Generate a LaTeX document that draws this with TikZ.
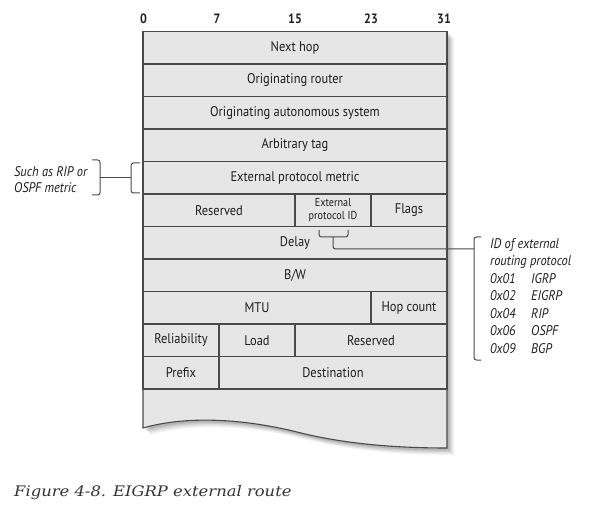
\documentclass[tikz,border=0pt]{standalone}
\usepackage{fontspec}
\setmainfont{DejaVu Serif}[FakeStretch=1.13]
\setsansfont{PT Sans}[FakeStretch=0.89]
\usetikzlibrary{positioning}
\definecolor{cellfill}{HTML}{E6E6E6}
\definecolor{linec}{HTML}{4A4A4A}
\definecolor{txtc}{HTML}{1E1E1E}
\definecolor{capc}{HTML}{333333}
\tikzset{
  cell/.style={draw=linec, line width=1.1pt, inner sep=0pt, minimum height=32.5pt, text=txtc, font=\sffamily\fontsize{14}{14}\selectfont, anchor=center},
  bitlbl/.style={text=txtc, font=\sffamily\bfseries\fontsize{13.5}{13.5}\selectfont, inner sep=0pt},
  note/.style={text=txtc, font=\sffamily\itshape\fontsize{14}{17.5}\selectfont, inner sep=0pt, align=left},
  brk/.style={draw=linec, line width=1pt, rounded corners=2.5pt},
}
\newcommand{\pcode}[2]{\makebox[41pt][l]{#1}#2}
\begin{document}
\begin{tikzpicture}[x=1pt,y=-1pt]
\useasboundingbox (0,0) rectangle (591,510);
% shadow
\foreach \o/\op in {7/0.05,5.5/0.07,4/0.09,2.5/0.11}{
  \fill[black,opacity=\op] (143+\o,31.5+\o) -- (447+\o,31.5+\o) -- (447+\o,448+\o)
    .. controls (390+\o,448+\o) and (340+\o,443+\o) .. (297+\o,432+\o)
    .. controls (240+\o,418+\o) and (185+\o,416+\o) .. (143+\o,428+\o) -- cycle;
}
% body
\fill[cellfill] (143,31.5) -- (447,31.5) -- (447,448)
    .. controls (390,448) and (340,443) .. (297,432)
    .. controls (240,418) and (185,416) .. (143,428) -- cycle;
\draw[draw=linec, line width=1.1pt] (143,389) -- (143,428)
    .. controls (185,416) and (240,418) .. (297,432)
    .. controls (340,443) and (390,448) .. (447,448) -- (447,389);
% bit labels
\node[bitlbl] (b0) at (143.5,19) {0};
\node[bitlbl] (b7) at (217,19) {7};
\node[bitlbl] (b15) at (295,19) {15};
\node[bitlbl] (b23) at (371,19) {23};
\node[bitlbl] (b31) at (444,19) {31};
% rows
\node[cell, minimum width=304pt] (nh) at (295,47.75) {Next hop};
\node[cell, minimum width=304pt] (or) at (295,80.25) {Originating router};
\node[cell, minimum width=304pt] (oas) at (295,112.75) {Originating autonomous system};
\node[cell, minimum width=304pt] (at) at (295,145.25) {Arbitrary tag};
\node[cell, minimum width=304pt] (epm) at (295,177.75) {External protocol metric};
\node[cell, minimum width=152pt] (res1) at (219,210.25) {Reserved};
\node[cell, minimum width=76pt, align=center, font=\sffamily\fontsize{11.5}{12.5}\selectfont] (epid) at (333,210.25) {External\\protocol ID};
\node[cell, minimum width=76pt] (flags) at (409,210.25) {Flags};
\node[cell, minimum width=304pt] (delay) at (295,242.75) {Delay};
\node[cell, minimum width=304pt] (bw) at (295,275.25) {B/W};
\node[cell, minimum width=228pt] (mtu) at (257,307.75) {MTU};
\node[cell, minimum width=76pt] (hop) at (409,307.75) {Hop count};
\node[cell, minimum width=76pt] (rel) at (181,340.25) {Reliability};
\node[cell, minimum width=76pt] (load) at (257,340.25) {Load};
\node[cell, minimum width=152pt] (res2) at (371,340.25) {Reserved};
\node[cell, minimum width=76pt] (pref) at (181,372.75) {Prefix};
\node[cell, minimum width=228pt] (dest) at (333,372.75) {Destination};
% left annotation
\node[note, anchor=west, font=\sffamily\itshape\fontsize{14}{15.5}\selectfont] (lnote) at (14,179.5) {Such as RIP or\\OSPF metric};
\coordinate (lb1) at (100,178);
\coordinate (lb2) at (131,178);
\draw[brk] (92,160) -- (100,160) -- (100,195) -- (92,195);
\draw[brk] (140,163) -- (131,163) -- (131,193) -- (140,193);
\draw[draw=linec, line width=1pt] (lb1) -- (lb2);
% right annotation
\node[note, anchor=north west] (rnote) at (490,238) {ID of external\\routing protocol\\\pcode{0x01}{IGRP}\\\pcode{0x02}{EIGRP}\\\pcode{0x04}{RIP}\\\pcode{0x06}{OSPF}\\\pcode{0x09}{BGP}};
\draw[brk] (319,230) -- (319,237) -- (348,237) -- (348,230);
\coordinate (rb) at (474,249);
\draw[draw=linec, line width=1pt, rounded corners=2.5pt] (333,237) -- (333,249) -- (rb);
\draw[brk] (481,237) -- (474,237) -- (474,360) -- (481,360);
% caption
\node[anchor=base west, inner sep=0pt, text=capc, font=\rmfamily\itshape\fontsize{14.5}{16}\selectfont] (cap) at (14,496) {Figure 4-8. EIGRP external route};
\end{tikzpicture}
\end{document}
